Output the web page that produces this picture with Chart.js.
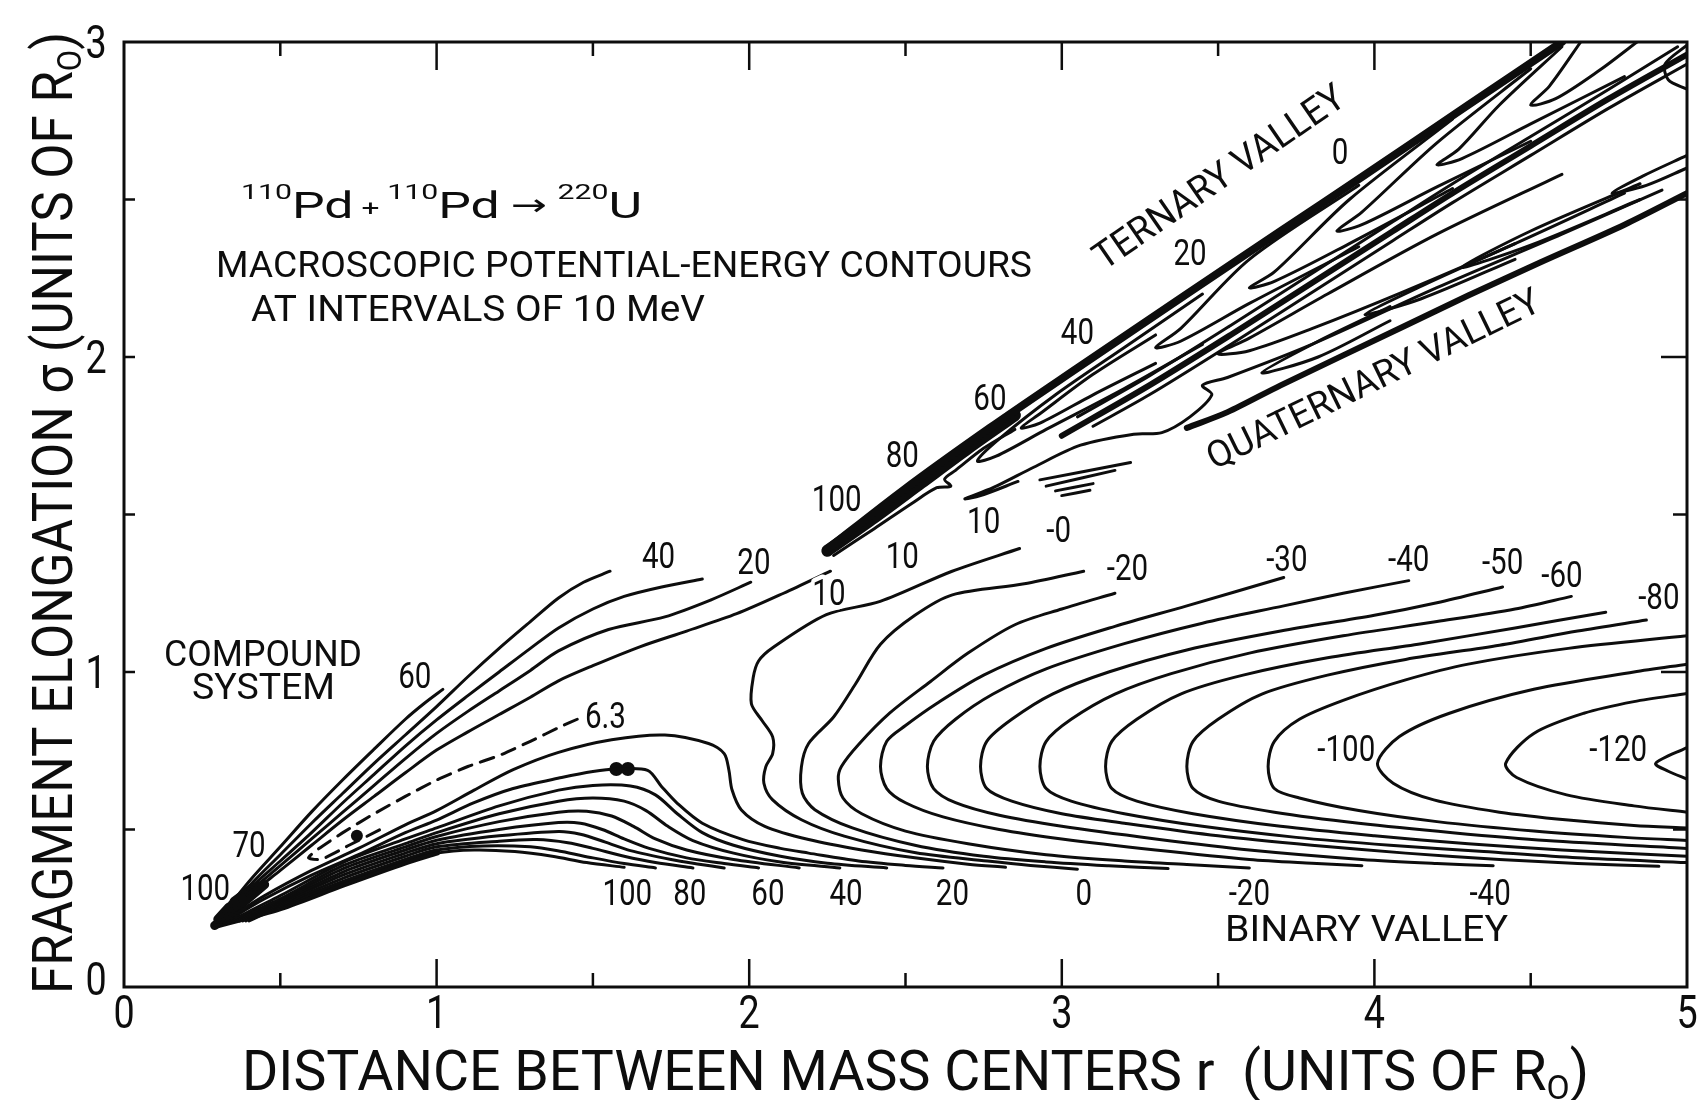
<!DOCTYPE html>
<html>
<head>
<meta charset="utf-8">
<script src="https://cdn.jsdelivr.net/npm/chart.js@4.4.0/dist/chart.umd.min.js"></script>
<style>
  html, body { margin: 0; background: #fff; }
  #wrap { width: 1702px; height: 1100px; }
</style>
</head>
<body>
<div id="wrap"><canvas id="pes" width="1702" height="1100"></canvas></div>
<script>
// axes
const xTickValues = [0.5, 1, 1.5, 2, 2.5, 3, 3.5, 4, 4.5];
const yTickValues = [0.5, 1, 1.5, 2, 2.5];
const xTickLabels = ['0', '1', '2', '3', '4', '5'];
const yTickLabels = ['0', '1', '2', '3'];

// contours, points are [r, sigma]
// lines fanning up from the compound-system tip
const f60 = [[0.30,0.21],[0.40,0.335],[0.50,0.445],[0.60,0.556],[0.70,0.658],[0.80,0.755],[0.90,0.85],[0.96,0.90],[1.02,0.945]];
const f40 = [[0.30,0.205],[0.40,0.32],[0.50,0.42],[0.60,0.52],[0.70,0.615],[0.80,0.71],[0.90,0.80],[1.00,0.89],[1.10,0.985],[1.20,1.075],[1.30,1.16],[1.39,1.235],[1.47,1.285],[1.555,1.32]];
const f30 = [[0.31,0.205],[0.40,0.31],[0.50,0.40],[0.60,0.49],[0.70,0.585],[0.80,0.675],[0.90,0.765],[1.00,0.848],[1.10,0.925],[1.20,1.00],[1.30,1.075],[1.39,1.14],[1.50,1.20],[1.60,1.24],[1.72,1.27],[1.85,1.295]];
const f20 = [[0.31,0.205],[0.40,0.30],[0.50,0.385],[0.60,0.47],[0.70,0.555],[0.80,0.64],[0.90,0.725],[1.00,0.805],[1.10,0.875],[1.20,0.94],[1.30,1.005],[1.39,1.067],[1.55,1.135],[1.73,1.175],[1.88,1.23],[2.005,1.285]];
const f10 = [[0.32,0.205],[0.40,0.29],[0.50,0.37],[0.60,0.45],[0.70,0.53],[0.80,0.605],[0.90,0.68],[1.00,0.752],[1.10,0.81],[1.20,0.865],[1.30,0.92],[1.39,0.972],[1.50,1.02],[1.65,1.08],[1.80,1.13],[1.96,1.185],[2.11,1.25],[2.26,1.32]];
const saddle63 = [[1.45,0.85],[1.40,0.828],[1.30,0.78],[1.20,0.735],[1.10,0.70],[1.00,0.657],[0.90,0.605],[0.80,0.55],[0.70,0.49],[0.62,0.437],[0.59,0.41],[0.63,0.405],[0.72,0.45],[0.82,0.50]];

// lines over the fission hump into the binary valley
const h10 = [[0.33,0.215],[0.45,0.29],[0.60,0.37],[0.75,0.44],[0.90,0.515],[1.00,0.56],[1.12,0.625],[1.245,0.69],[1.39,0.745],[1.56,0.785],[1.73,0.80],[1.87,0.773],[1.92,0.741],[1.935,0.689],[1.945,0.626],[1.975,0.562],[2.05,0.51],[2.19,0.468],[2.36,0.435],[2.53,0.41],[2.70,0.39],[2.82,0.38]];
const h20 = [[0.33,0.21],[0.45,0.28],[0.60,0.355],[0.75,0.42],[0.90,0.49],[1.00,0.53],[1.12,0.585],[1.245,0.63],[1.40,0.665],[1.50,0.684],[1.575,0.692],[1.675,0.688],[1.72,0.636],[1.77,0.583],[1.85,0.52],[1.98,0.468],[2.10,0.44],[2.19,0.425],[2.35,0.40],[2.50,0.386],[2.62,0.378]];
const h30 = [[0.34,0.21],[0.50,0.29],[0.70,0.395],[0.90,0.47],[1.00,0.505],[1.20,0.575],[1.39,0.625],[1.50,0.64],[1.62,0.638],[1.70,0.61],[1.77,0.55],[1.85,0.49],[1.95,0.45],[2.10,0.415],[2.25,0.393],[2.44,0.378]];
const h40 = [[0.35,0.21],[0.50,0.28],[0.70,0.385],[0.90,0.455],[1.00,0.49],[1.20,0.55],[1.39,0.59],[1.50,0.60],[1.60,0.59],[1.67,0.56],[1.74,0.51],[1.82,0.465],[1.95,0.425],[2.10,0.397],[2.29,0.378]];
const h50 = [[0.36,0.21],[0.50,0.275],[0.70,0.375],[0.90,0.445],[1.00,0.478],[1.20,0.525],[1.39,0.555],[1.48,0.558],[1.56,0.543],[1.63,0.51],[1.70,0.47],[1.80,0.435],[1.95,0.405],[2.16,0.378]];
const h60 = [[0.37,0.21],[0.50,0.27],[0.70,0.365],[0.90,0.435],[1.00,0.466],[1.20,0.50],[1.39,0.522],[1.46,0.52],[1.53,0.50],[1.60,0.47],[1.68,0.44],[1.80,0.41],[1.92,0.392],[2.03,0.378]];
const h70 = [[0.38,0.21],[0.50,0.265],[0.70,0.355],[0.90,0.425],[1.00,0.455],[1.20,0.48],[1.39,0.494],[1.46,0.485],[1.54,0.46],[1.62,0.433],[1.75,0.405],[1.84,0.39],[1.92,0.378]];
const h80 = [[0.39,0.21],[0.50,0.26],[0.70,0.345],[0.90,0.415],[1.00,0.445],[1.20,0.463],[1.32,0.468],[1.42,0.458],[1.50,0.44],[1.60,0.415],[1.70,0.395],[1.82,0.378]];
const h90 = [[0.40,0.21],[0.50,0.255],[0.70,0.335],[0.90,0.405],[1.00,0.435],[1.15,0.448],[1.30,0.445],[1.40,0.43],[1.50,0.41],[1.60,0.392],[1.70,0.378]];
const h100 = [[0.29,0.195],[0.50,0.25],[0.70,0.325],[0.90,0.395],[1.00,0.425],[1.12,0.435],[1.25,0.43],[1.37,0.415],[1.48,0.395],[1.60,0.38]];
const tipBlob = [[0.29,0.195],[0.36,0.25],[0.42,0.30],[0.45,0.325],[0.41,0.315],[0.35,0.27],[0.30,0.215]];
const bandEdge = [[0.29,0.195],[0.50,0.252],[0.70,0.326],[0.90,0.397],[1.00,0.428]];

// binary valley, 0 down to -120
const b0 = [[2.865,1.392],[2.647,1.319],[2.419,1.224],[2.247,1.182],[2.075,1.077],[2.03,1.035],[2.013,0.983],[2.007,0.899],[2.041,0.846],[2.075,0.794],[2.075,0.741],[2.053,0.699],[2.047,0.647],[2.075,0.594],[2.167,0.531],[2.304,0.479],[2.533,0.426],[2.762,0.40],[2.90,0.386],[3.05,0.374]];
const b1 = [[3.07,1.32],[2.88,1.28],[2.65,1.245],[2.53,1.18],[2.42,1.088],[2.34,0.962],[2.27,0.857],[2.19,0.773],[2.167,0.699],[2.17,0.615],[2.21,0.563],[2.33,0.505],[2.53,0.45],[2.75,0.415],[2.95,0.397],[3.15,0.385],[3.34,0.376]];
const b2 = [[3.17,1.25],[3.00,1.20],[2.85,1.15],[2.70,1.06],[2.58,0.97],[2.45,0.87],[2.35,0.77],[2.295,0.70],[2.285,0.66],[2.30,0.60],[2.36,0.55],[2.50,0.495],[2.70,0.455],[2.95,0.42],[3.20,0.40],[3.40,0.389],[3.60,0.378]];
const b3 = [[3.71,1.30],[3.40,1.21],[3.17,1.145],[2.95,1.075],[2.75,0.99],[2.60,0.90],[2.50,0.83],[2.44,0.78],[2.42,0.70],[2.44,0.63],[2.50,0.585],[2.62,0.54],[2.80,0.50],[3.00,0.47],[3.30,0.435],[3.60,0.405],[3.80,0.393],[3.96,0.385]];
const b4 = [[4.11,1.29],[3.90,1.25],[3.71,1.21],[3.45,1.155],[3.20,1.09],[2.95,1.01],[2.78,0.93],[2.66,0.85],[2.59,0.78],[2.57,0.70],[2.59,0.63],[2.66,0.585],[2.80,0.545],[3.00,0.51],[3.30,0.47],[3.60,0.435],[3.96,0.405],[4.20,0.392],[4.38,0.385]];
const b5 = [[4.41,1.27],[4.20,1.22],[4.00,1.18],[3.70,1.13],[3.40,1.07],[3.15,1.00],[2.97,0.93],[2.84,0.85],[2.76,0.78],[2.74,0.70],[2.76,0.63],[2.84,0.59],[3.00,0.55],[3.20,0.52],[3.50,0.48],[3.80,0.45],[4.10,0.425],[4.40,0.405],[4.65,0.392],[4.91,0.383]];
const b6 = [[4.63,1.24],[4.45,1.20],[4.20,1.16],[3.90,1.115],[3.60,1.06],[3.35,0.995],[3.17,0.93],[3.03,0.85],[2.95,0.78],[2.93,0.70],[2.95,0.63],[3.03,0.59],[3.20,0.55],[3.45,0.51],[3.75,0.475],[4.05,0.45],[4.35,0.43],[4.65,0.41],[5.0,0.395]];
const b7 = [[4.74,1.19],[4.45,1.14],[4.15,1.09],[3.85,1.045],[3.58,0.99],[3.38,0.93],[3.24,0.85],[3.16,0.78],[3.14,0.70],[3.16,0.63],[3.24,0.59],[3.42,0.55],[3.70,0.51],[4.00,0.48],[4.30,0.455],[4.60,0.435],[5.0,0.415]];
const b8 = [[4.87,1.165],[4.65,1.13],[4.40,1.085],[4.10,1.04],[3.85,0.99],[3.64,0.93],[3.50,0.85],[3.42,0.78],[3.40,0.70],[3.42,0.63],[3.50,0.59],[3.68,0.555],[3.95,0.52],[4.25,0.49],[4.55,0.465],[5.0,0.44]];
const b9 = [[5.0,1.115],[4.62,1.075],[4.30,1.025],[4.10,0.975],[3.90,0.91],[3.76,0.85],[3.68,0.78],[3.66,0.70],[3.68,0.63],[3.76,0.60],[3.95,0.56],[4.20,0.525],[4.51,0.495],[4.80,0.475],[5.0,0.465]];
const b10 = [[5.0,1.025],[4.83,1.0],[4.51,0.945],[4.24,0.869],[4.08,0.795],[4.01,0.71],[4.06,0.647],[4.19,0.594],[4.40,0.555],[4.62,0.53],[4.83,0.513],[5.0,0.505]];
const b11 = [[5.0,0.932],[4.83,0.906],[4.67,0.869],[4.51,0.805],[4.42,0.71],[4.455,0.665],[4.615,0.61],[4.83,0.575],[5.0,0.555]];
const b12 = [[5.0,0.76],[4.90,0.71],[4.94,0.685],[5.0,0.66]];

// ternary / quaternary valleys
const ridgeTop = [[2.25,1.39],[2.49,1.575],[2.77,1.775],[3.05,1.965],[3.40,2.20],[3.70,2.40],[3.965,2.575],[4.30,2.80],[4.60,3.0]];
const ridgeWedge = [[2.25,1.385],[2.40,1.49],[2.55,1.60],[2.70,1.71],[2.85,1.815]];
const ridgeS = [[2.27,1.37],[2.40,1.455],[2.52,1.535],[2.60,1.585],[2.645,1.59],[2.625,1.612],[2.66,1.64],[2.75,1.71],[2.85,1.77]];
const ridgeMid = [[3.00,1.75],[3.28,1.91],[3.54,2.07],[3.80,2.235],[4.06,2.40],[4.25,2.52],[4.50,2.67],[4.75,2.82],[5.0,2.96]];
const ridgeMidA = [[3.05,1.81],[3.28,1.94],[3.54,2.10],[3.80,2.265],[4.06,2.43],[4.25,2.55],[4.50,2.70],[4.75,2.85],[4.97,2.985]];
const ridgeMidB = [[3.10,1.78],[3.28,1.88],[3.54,2.04],[3.80,2.205],[4.06,2.37],[4.25,2.49],[4.50,2.64],[4.75,2.79],[5.0,2.93]];
const ridgeLow = [[3.40,1.775],[3.53,1.825],[3.70,1.91],[4.10,2.10],[4.30,2.195],[4.53,2.30],[4.80,2.42],[5.0,2.52]];
const hook10 = [[2.86,1.605],[2.74,1.56],[2.69,1.55],[2.78,1.585],[2.91,1.65],[3.06,1.72],[3.23,1.755],[3.32,1.76],[3.41,1.81],[3.48,1.88],[3.45,1.91],[3.53,1.935],[3.80,2.04],[4.20,2.22],[4.60,2.39],[4.92,2.53]];
const tern1 = [[3.45,2.20],[3.20,2.03],[2.98,1.88],[2.80,1.74],[2.73,1.67],[2.79,1.685],[2.95,1.77],[3.20,1.90],[3.45,2.04]];
const tern2 = [[3.30,2.07],[3.10,1.945],[2.93,1.82],[2.87,1.775],[2.93,1.79],[3.10,1.88],[3.30,1.98]];
const tern3 = [[3.95,2.545],[3.60,2.31],[3.38,2.09],[3.30,2.03],[3.38,2.05],[3.60,2.17],[3.95,2.35]];
const tern4 = [[4.25,2.755],[3.92,2.50],[3.68,2.27],[3.60,2.22],[3.68,2.24],[3.92,2.36],[4.25,2.535]];
const tern5 = [[4.50,2.915],[4.20,2.68],[3.96,2.46],[3.88,2.40],[3.96,2.42],[4.20,2.54],[4.50,2.685]];
const tern6 = [[4.60,2.985],[4.40,2.80],[4.27,2.66],[4.20,2.61],[4.28,2.63],[4.50,2.74],[4.80,2.89]];
const tern7 = [[4.66,3.0],[4.56,2.86],[4.50,2.80],[4.58,2.82],[4.72,2.91],[4.84,3.0]];
const tern8 = [[5.0,2.99],[4.93,2.93],[4.94,2.88],[5.0,2.85]];
const quatBig = [[4.60,2.58],[4.20,2.39],[3.85,2.20],[3.60,2.06],[3.50,2.01],[3.60,2.02],[3.80,2.09],[4.10,2.21],[4.45,2.36],[4.80,2.52]];
const quatSliver1 = [[4.05,2.16],[3.82,2.05],[3.64,1.95],[3.82,2.00],[4.05,2.115]];
const quatSliver2 = [[4.45,2.36],[4.15,2.225],[3.97,2.135],[4.15,2.185],[4.45,2.31]];
const quatSliver3 = [[4.85,2.55],[4.50,2.40],[4.28,2.285],[4.50,2.355],[4.85,2.50]];
const quatSliver4 = [[5.0,2.64],[4.86,2.575],[4.76,2.52],[4.87,2.545],[5.0,2.60]];
const quatDash1 = [[2.93,1.61],[3.22,1.665]];
const quatDash2 = [[2.95,1.59],[3.17,1.64]];
const quatDash3 = [[2.98,1.575],[3.10,1.598]];
const quatDash4 = [[3.00,1.56],[3.09,1.577]];

// marked points: ground state and saddle
const groundState = [[0.745,0.48]];
const saddlePoint = [[1.575,0.692],[1.612,0.692]];

// contour labels [text, r, sigma]
const contourLabels = [
  ['100',0.26,0.305],['70',0.40,0.44],['60',0.93,0.977],['40',1.71,1.36],['20',2.015,1.34],['10',2.255,1.24],
  ['100',2.28,1.54],['80',2.49,1.68],['60',2.77,1.86],['40',3.05,2.07],['20',3.41,2.32],['0',3.89,2.64],
  ['10',2.49,1.36],['10',2.75,1.47],['-0',2.99,1.44],['-20',3.21,1.32],['-30',3.72,1.35],['-40',4.11,1.35],
  ['-50',4.41,1.34],['-60',4.60,1.30],['-80',4.91,1.23],['6.3',1.54,0.85],['-100',3.91,0.746],['-120',4.78,0.746],
  ['100',1.61,0.29],['80',1.81,0.29],['60',2.06,0.29],['40',2.31,0.29],['20',2.65,0.29],['0',3.07,0.29],
  ['-20',3.60,0.29],['-40',4.37,0.29]
];

const INK = '#0d0d0d';
const FONT = "Roboto, 'DejaVu Sans', sans-serif";

const toPts = a => a.map(p => ({x: p[0], y: p[1]}));
function contour(arr, width, extra) {
  return Object.assign({
    data: toPts(arr), showLine: true, borderColor: INK, borderWidth: width || 3,
    pointRadius: 0, tension: 0.3, fill: false,
    borderCapStyle: 'round', borderJoinStyle: 'round'
  }, extra || {});
}

const thinLines = [f60, f40, f30, f20, f10,
  h10, h20, h30, h40, h50, h60, h70, h80, h90, h100,
  b0, b1, b2, b3, b4, b5, b6, b7, b8, b9, b10, b11, b12,
  ridgeS, ridgeMidA, ridgeMidB, hook10,
  tern1, tern2, tern3, tern4, tern5, tern6, tern7, tern8,
  quatBig, quatSliver1, quatSliver2, quatSliver3, quatSliver4,
  quatDash1, quatDash2, quatDash3, quatDash4];

const datasets = thinLines.map(a => contour(a, 3));
datasets.push(contour(saddle63, 3, {borderDash: [14, 9], tension: 0.2}));
datasets.push(contour(ridgeTop, 8));
datasets.push(contour(ridgeWedge, 12));
datasets.push(contour(ridgeMid, 6));
datasets.push(contour(ridgeLow, 6));
datasets.push(contour(tipBlob, 9, {tension: 0}));
datasets.push(contour(bandEdge, 7));
datasets.push({data: toPts(groundState), showLine: false, pointRadius: 6, backgroundColor: INK, borderWidth: 0});
datasets.push({data: toPts(saddlePoint), showLine: false, pointRadius: 7, backgroundColor: INK, borderWidth: 0});

// text with horizontal squeeze to match the condensed lettering
function rich(ctx, segs, x, y, width, rot) {
  ctx.save();
  ctx.translate(x, y);
  if (rot) ctx.rotate(rot);
  let total = 0;
  segs.forEach(s => { ctx.font = s.s + 'px ' + FONT; s.w = ctx.measureText(s.t).width; total += s.w; });
  ctx.scale(width / total, 1);
  ctx.fillStyle = INK;
  ctx.textAlign = 'left';
  ctx.textBaseline = 'alphabetic';
  let cx = 0;
  segs.forEach(s => { ctx.font = s.s + 'px ' + FONT; ctx.fillText(s.t, cx, s.dy || 0); cx += s.w; });
  ctx.restore();
}

function label(ctx, t, x, y, size, halo) {
  ctx.save();
  ctx.translate(x, y);
  ctx.scale(0.82, 1);
  ctx.font = size + 'px ' + FONT;
  ctx.textAlign = 'center';
  ctx.textBaseline = 'middle';
  if (halo) {
    ctx.strokeStyle = '#fff'; ctx.lineWidth = 9; ctx.lineJoin = 'round';
    ctx.strokeText(t, 0, 0);
  }
  ctx.fillStyle = INK;
  ctx.fillText(t, 0, 0);
  ctx.restore();
}

const figureText = {
  id: 'figureText',
  afterDraw(chart) {
    const ctx = chart.ctx, a = chart.chartArea;
    const xs = chart.scales.x, ys = chart.scales.y;

    // frame
    ctx.save();
    ctx.strokeStyle = INK;
    ctx.lineWidth = 3;
    ctx.strokeRect(a.left, a.top, a.right - a.left, a.bottom - a.top);
    ctx.lineWidth = 2.5;
    ctx.beginPath();
    xTickValues.forEach(v => {
      const px = xs.getPixelForValue(v);
      const L = Number.isInteger(v) ? 28 : 14;
      ctx.moveTo(px, a.bottom); ctx.lineTo(px, a.bottom - L);
      ctx.moveTo(px, a.top); ctx.lineTo(px, a.top + L);
    });
    yTickValues.forEach(v => {
      const py = ys.getPixelForValue(v);
      ctx.moveTo(a.left, py); ctx.lineTo(a.left + 11, py);
      ctx.moveTo(a.right, py); ctx.lineTo(a.right - (Number.isInteger(v) ? 26 : 14), py);
    });
    ctx.stroke();
    ctx.restore();

    // tick labels
    xTickLabels.forEach((t, i) => label(ctx, t, xs.getPixelForValue(i), 1016, 46, false));
    yTickLabels.forEach((t, i) => label(ctx, t, 96, ys.getPixelForValue(i) - (i === 0 ? 4 : -4), 46, false));

    // axis titles
    rich(ctx, [{t: 'DISTANCE BETWEEN MASS CENTERS ', s: 56}, {t: 'r', s: 56}, {t: '  (UNITS OF R', s: 56},
      {t: 'O', s: 34, dy: 9}, {t: ')', s: 56}], 242, 1090, 1347);
    rich(ctx, [{t: 'FRAGMENT ELONGATION ', s: 56}, {t: '\u03c3', s: 56}, {t: ' (UNITS OF R', s: 56},
      {t: 'O', s: 34, dy: 9}, {t: ')', s: 56}], 72, 994, 962, -Math.PI / 2);

    // annotations
    rich(ctx, [{t: '110', s: 21, dy: -19}, {t: 'Pd', s: 36}, {t: ' + ', s: 22, dy: -2}, {t: '110', s: 21, dy: -19},
      {t: 'Pd', s: 36}, {t: ' \u2192 ', s: 30, dy: -3}, {t: '220', s: 21, dy: -19}, {t: 'U', s: 36}], 241, 218, 401);
    rich(ctx, [{t: 'MACROSCOPIC POTENTIAL-ENERGY CONTOURS', s: 36}], 216, 277, 816);
    rich(ctx, [{t: 'AT INTERVALS OF 10 MeV', s: 36}], 251, 321, 454);
    rich(ctx, [{t: 'COMPOUND', s: 36}], 164, 666, 198);
    rich(ctx, [{t: 'SYSTEM', s: 36}], 192, 699, 143);
    rich(ctx, [{t: 'BINARY VALLEY', s: 36}], 1225, 941, 283);
    rich(ctx, [{t: 'TERNARY VALLEY', s: 38}], 1104, 271, 296, -34.5 * Math.PI / 180);
    rich(ctx, [{t: 'QUATERNARY VALLEY', s: 37}], 1214, 470, 366, -26 * Math.PI / 180);

    // contour values
    contourLabels.forEach(l => label(ctx, l[0], xs.getPixelForValue(l[1]), ys.getPixelForValue(l[2]), 36, true));
  }
};

new Chart(document.getElementById('pes').getContext('2d'), {
  type: 'scatter',
  data: {datasets: datasets},
  options: {
    responsive: false,
    animation: false,
    devicePixelRatio: 1,
    layout: {padding: {left: 124, right: 15, top: 42, bottom: 113}},
    plugins: {legend: {display: false}, tooltip: {enabled: false}},
    scales: {
      x: {type: 'linear', min: 0, max: 5, display: false},
      y: {type: 'linear', min: 0, max: 3, display: false}
    }
  },
  plugins: [figureText]
});
</script>
</body>
</html>
